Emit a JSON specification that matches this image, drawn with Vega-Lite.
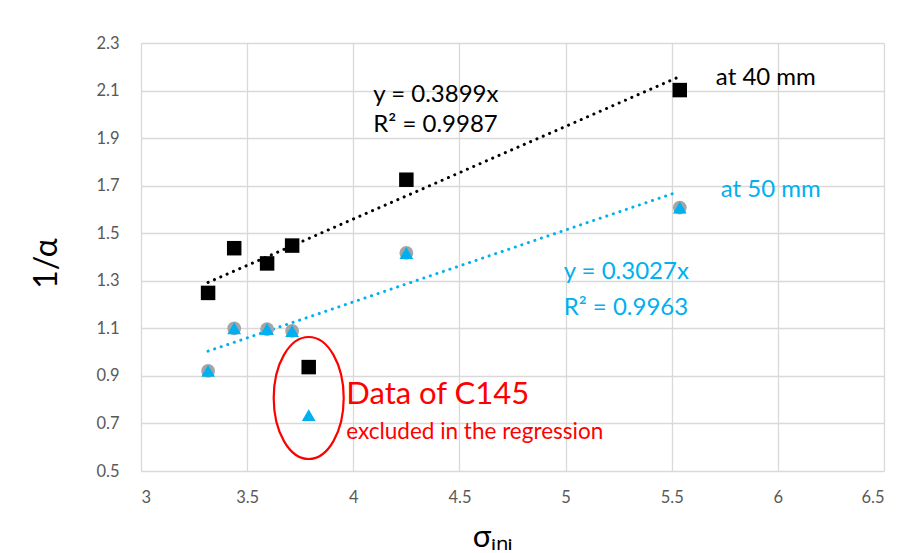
{
  "$schema": "https://vega.github.io/schema/vega-lite/v6.json",
  "autosize": "none",
  "padding": {"left": 141, "top": 43, "right": 18, "bottom": 82},
  "width": 743,
  "height": 428,
  "background": "white",
  "config": {
    "view": {"stroke": null},
    "font": "Lato",
    "axis": {
      "gridColor": "#d9d9d9",
      "gridWidth": 1.3,
      "ticks": false,
      "domain": false,
      "labelColor": "#595959",
      "labelFontSize": 16.5,
      "labelFont": "Lato",
      "titleFont": "Lato",
      "titleFontWeight": "normal",
      "titleColor": "#000000"
    }
  },
  "datasets": {
    "points": [
      {"sigma": 3.316, "inv": 1.249, "series": "40 mm"},
      {"sigma": 3.439, "inv": 1.437, "series": "40 mm"},
      {"sigma": 3.594, "inv": 1.373, "series": "40 mm"},
      {"sigma": 3.712, "inv": 1.448, "series": "40 mm"},
      {"sigma": 4.25, "inv": 1.725, "series": "40 mm"},
      {"sigma": 5.538, "inv": 2.102, "series": "40 mm"},
      {"sigma": 3.316, "inv": 0.921, "series": "50 mm"},
      {"sigma": 3.439, "inv": 1.1, "series": "50 mm"},
      {"sigma": 3.594, "inv": 1.097, "series": "50 mm"},
      {"sigma": 3.712, "inv": 1.089, "series": "50 mm"},
      {"sigma": 4.25, "inv": 1.417, "series": "50 mm"},
      {"sigma": 5.538, "inv": 1.608, "series": "50 mm"},
      {"sigma": 3.79, "inv": 0.937, "series": "C145 40 mm"},
      {"sigma": 3.79, "inv": 0.735, "series": "C145 50 mm"}
    ],
    "trends": [
      {"sigma": 3.316, "inv": 1.293, "series": "40 mm"},
      {"sigma": 5.53, "inv": 2.156, "series": "40 mm"},
      {"sigma": 3.316, "inv": 1.004, "series": "50 mm"},
      {"sigma": 5.53, "inv": 1.674, "series": "50 mm"}
    ]
  },
  "encoding": {
    "x": {
      "field": "sigma",
      "type": "quantitative",
      "scale": {"domain": [3, 6.5], "nice": false, "zero": false},
      "axis": {
        "values": [3, 3.5, 4, 4.5, 5, 5.5, 6, 6.5],
        "format": "~g",
        "labelPadding": 18,
        "title": "σᵢₙᵢ",
        "titleFontSize": 31,
        "titleX": 351,
        "titleAlign": "center",
        "titleY": 75,
        "titleBaseline": "alphabetic"
      }
    },
    "y": {
      "field": "inv",
      "type": "quantitative",
      "scale": {"domain": [0.5, 2.3], "nice": false, "zero": false},
      "axis": {
        "values": [0.5, 0.7, 0.9, 1.1, 1.3, 1.5, 1.7, 1.9, 2.1, 2.3],
        "format": "~g",
        "labelPadding": 22,
        "title": "1/α",
        "titleFontSize": 32,
        "titleX": -95,
        "titleY": 220,
        "titleAlign": "center",
        "titleBaseline": "middle"
      }
    }
  },
  "layer": [
    {
      "data": {"values": [{"sigma": 3}, {"sigma": 6.5}]},
      "mark": {"type": "rule", "color": "#bfbfbf", "strokeWidth": 1.5},
      "encoding": {"x": {"field": "sigma", "type": "quantitative"}, "x2": {"field": "sigma"}, "y": {"datum": 0.5}}
    },
    {
      "data": {"name": "trends"},
      "transform": [{"filter": "datum.series === '40 mm'"}],
      "mark": {"type": "line", "color": "#000000", "strokeWidth": 3, "strokeCap": "round", "strokeDash": [0.1, 6.8]},
      "encoding": {}
    },
    {
      "data": {"name": "trends"},
      "transform": [{"filter": "datum.series === '50 mm'"}],
      "mark": {"type": "line", "color": "#00b0f0", "strokeWidth": 3, "strokeCap": "round", "strokeDash": [0.1, 6.8]},
      "encoding": {}
    },
    {
      "data": {"name": "points"},
      "transform": [{"filter": "datum.series === '40 mm' || datum.series === 'C145 40 mm'"}],
      "mark": {"type": "point", "shape": "square", "filled": true, "color": "#000000", "size": 210, "opacity": 1}
    },
    {
      "data": {"name": "points"},
      "transform": [{"filter": "datum.series === '50 mm'"}],
      "mark": {"type": "point", "shape": "circle", "filled": true, "color": "#a5a5a5", "size": 190, "opacity": 1}
    },
    {
      "data": {"name": "points"},
      "transform": [{"filter": "datum.series === '50 mm' || datum.series === 'C145 50 mm'"}],
      "mark": {"type": "point", "shape": "triangle-up", "filled": true, "color": "#00b0f0", "size": 190, "opacity": 1}
    },
    {
      "data": {"values": [{"sigma": 3.79, "inv": 0.807}]},
      "mark": {
        "type": "point",
        "shape": "M -1 0 A 1 1.743 0 1 1 1 0 A 1 1.743 0 1 1 -1 0 Z",
        "filled": false,
        "stroke": "#ff0000",
        "strokeWidth": 2.2,
        "size": 4900,
        "opacity": 1
      }
    },
    {
      "data": {"values": [
        {"sigma": 4.094, "inv": 2.081, "label": "y = 0.3899x"},
        {"sigma": 4.094, "inv": 1.957, "label": "R² = 0.9987"},
        {"sigma": 5.708, "inv": 2.153, "label": "at 40 mm"}
      ]},
      "mark": {"type": "text", "align": "left", "baseline": "middle", "fontSize": 24, "color": "#000000"},
      "encoding": {"text": {"field": "label"}}
    },
    {
      "data": {"values": [
        {"sigma": 4.991, "inv": 1.337, "label": "y = 0.3027x"},
        {"sigma": 4.991, "inv": 1.186, "label": "R² = 0.9963"},
        {"sigma": 5.731, "inv": 1.682, "label": "at 50 mm"}
      ]},
      "mark": {"type": "text", "align": "left", "baseline": "middle", "fontSize": 24, "color": "#00b0f0"},
      "encoding": {"text": {"field": "label"}}
    },
    {
      "data": {"values": [{"sigma": 3.967, "inv": 0.82, "label": "Data of C145"}]},
      "mark": {"type": "text", "align": "left", "baseline": "middle", "fontSize": 31, "color": "#ff0000"},
      "encoding": {"text": {"field": "label"}}
    },
    {
      "data": {"values": [{"sigma": 3.967, "inv": 0.664, "label": "excluded in the regression"}]},
      "mark": {"type": "text", "align": "left", "baseline": "middle", "fontSize": 22.5, "color": "#ff0000"},
      "encoding": {"text": {"field": "label"}}
    }
  ]
}
